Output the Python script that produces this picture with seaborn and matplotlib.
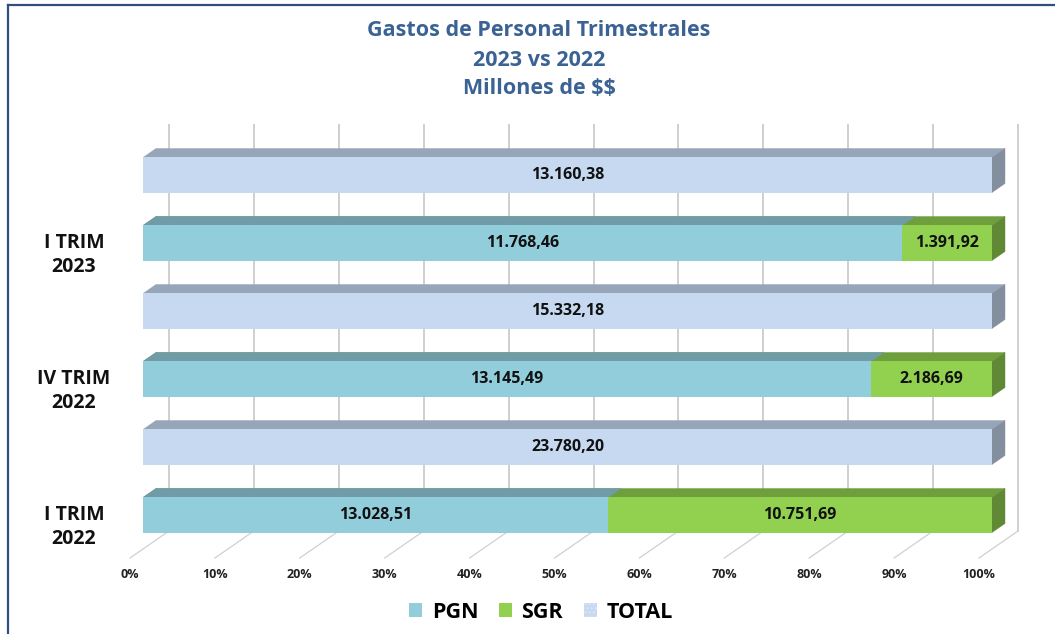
import numpy as np
import pandas as pd
import matplotlib.pyplot as plt
import seaborn as sns
from matplotlib.patches import Polygon, Patch
from matplotlib.lines import Line2D
from matplotlib.transforms import IdentityTransform

plt.rcParams['font.family'] = ['Open Sans', 'DejaVu Sans']

# Data (millones de $)
periodos = ["I TRIM\n2023", "IV TRIM\n2022", "I TRIM\n2022"]
pgn = [11768.46, 13145.49, 13028.51]
sgr = [1391.92, 2186.69, 10751.69]
total = [13160.38, 15332.18, 23780.20]
ticks_pct = [0, 10, 20, 30, 40, 50, 60, 70, 80, 90, 100]

colores = {"PGN": "#92CDDC", "SGR": "#92D050", "TOTAL": "#C6D9F1"}

# each period gets a TOTAL bar and a PGN+SGR bar below it
filas = []
for p in periodos:
    filas += [p + " total", p + " split"]

df_fondo = pd.DataFrame({
    'fila': filas,
    'pct': [v for i in range(3) for v in (total[i] / total[i], (pgn[i] + sgr[i]) / total[i])],
    'serie': ["TOTAL", "SGR"] * 3,
})
df_pgn = pd.DataFrame({
    'fila': filas[1::2],
    'pct': [pgn[i] / total[i] for i in range(3)],
    'serie': ["PGN"] * 3,
})

W, H = 1055, 634
fig = plt.figure(figsize=(W / 100, H / 100), dpi=100)
ax = fig.add_axes([143 / W, (H - 549) / H, 849 / W, 408 / H])

common = dict(x='pct', y='fila', hue='serie', order=filas, palette=colores, dodge=False,
              width=0.515, orient='h', legend=False, errorbar=None, saturation=1,
              linewidth=0, ax=ax)
sns.barplot(data=df_fondo, **common)
sns.barplot(data=df_pgn, **common)

ax.set_xlim(0, 1)
ax.set_ylim(len(filas) - 0.5, -0.5)
ax.set_axis_off()

# 3D look: depth step in pixels (display coords, y up)
d = np.array([13.0, 9.0])
ident = IdentityTransform()


def px(x, y):
    return ax.transData.transform((x, y))


# back wall gridlines and floor lines
for t in ticks_pct:
    x = t / 100
    top = px(x, -0.5) + 2 * d - np.array([0, 2])
    bot = px(x, len(filas) - 0.5) + 2 * d
    front = px(x, len(filas) - 0.5) - d
    ax.add_line(Line2D([top[0], bot[0]], [top[1], bot[1]], color='#CFCFCF', lw=1.4,
                       transform=ident, clip_on=False, zorder=0.2))
    ax.add_line(Line2D([front[0], bot[0]], [front[1], bot[1]], color='#D0D0D0', lw=0.9,
                       transform=ident, clip_on=False, zorder=0.2))
    ax.text(front[0], front[1] - 16, f"{t}%", transform=ident, ha='center', va='center',
            fontsize=9, fontweight='bold', color='#222222')

# top and side faces of the bars
for rect in list(ax.patches):
    w = rect.get_width()
    if w <= 0:
        continue
    x0, y0, h = rect.get_x(), rect.get_y(), rect.get_height()
    a = px(x0, y0)
    b = px(x0 + w, y0 + h)
    left, right = min(a[0], b[0]), max(a[0], b[0])
    top, bottom = max(a[1], b[1]), min(a[1], b[1])
    base = np.array(rect.get_facecolor()[:3])
    topc = base * 0.76
    ax.add_patch(Polygon([(left, top), (right, top), (right + d[0], top + d[1]),
                          (left + d[0], top + d[1])], closed=True, facecolor=topc,
                         edgecolor=topc, lw=0.3, transform=ident, clip_on=False, zorder=0.9))
    if abs(x0 + w - 1) < 1e-6:
        sidec = base * 0.66
        ax.add_patch(Polygon([(right, bottom), (right, top), (right + d[0], top + d[1]),
                              (right + d[0], bottom + d[1])], closed=True, facecolor=sidec,
                             edgecolor=sidec, lw=0.3, transform=ident, clip_on=False, zorder=0.9))


def fmt(v):
    return f"{v:,.2f}".replace(",", "X").replace(".", ",").replace("X", ".")


lab = dict(ha='center', va='center', fontsize=11.5, fontweight='bold', color='#111111', zorder=3)
for i in range(3):
    share = pgn[i] / total[i]
    ax.text(0.5, 2 * i, fmt(total[i]), **lab)
    ax.text(share / 2, 2 * i + 1, fmt(pgn[i]), **lab)
    ax.text(share + (1 - share) / 2, 2 * i + 1, fmt(sgr[i]), **lab)
    pos = px(0, 2 * i + 1) - d
    ax.text(pos[0] - 56, pos[1] - 3, periodos[i], transform=ident, ha='center', va='center',
            multialignment='center', fontsize=14, fontweight='bold', linespacing=1.3,
            color='#111111')

fig.text(539 / W, 1 - 60 / H, "Gastos de Personal Trimestrales\n2023 vs 2022\nMillones de $$",
         ha='center', va='center', fontsize=15.5, fontweight='bold', color='#3A6293',
         linespacing=1.5, parse_math=False)

handles = [Patch(facecolor=colores["PGN"], lw=0),
           Patch(facecolor=colores["SGR"], lw=0),
           Patch(facecolor=colores["TOTAL"], edgecolor='#DCE6F4', hatch='....', lw=0)]
fig.legend(handles, ["PGN", "SGR", "TOTAL"], loc='center', bbox_to_anchor=(541 / W, 1 - 612 / H),
           ncol=3, frameon=False, prop={'size': 15.5, 'weight': 'bold'}, handlelength=0.6,
           handleheight=0.6, handletextpad=0.45, columnspacing=0.95)

# chart frame
fig.add_artist(Line2D([8 / W, 8 / W], [0, 1 - 5 / H], color='#2F4F7F', lw=1.6))
fig.add_artist(Line2D([8 / W, 1], [1 - 5 / H, 1 - 5 / H], color='#2F4F7F', lw=1.6))

fig.savefig('out.png', dpi=100)
